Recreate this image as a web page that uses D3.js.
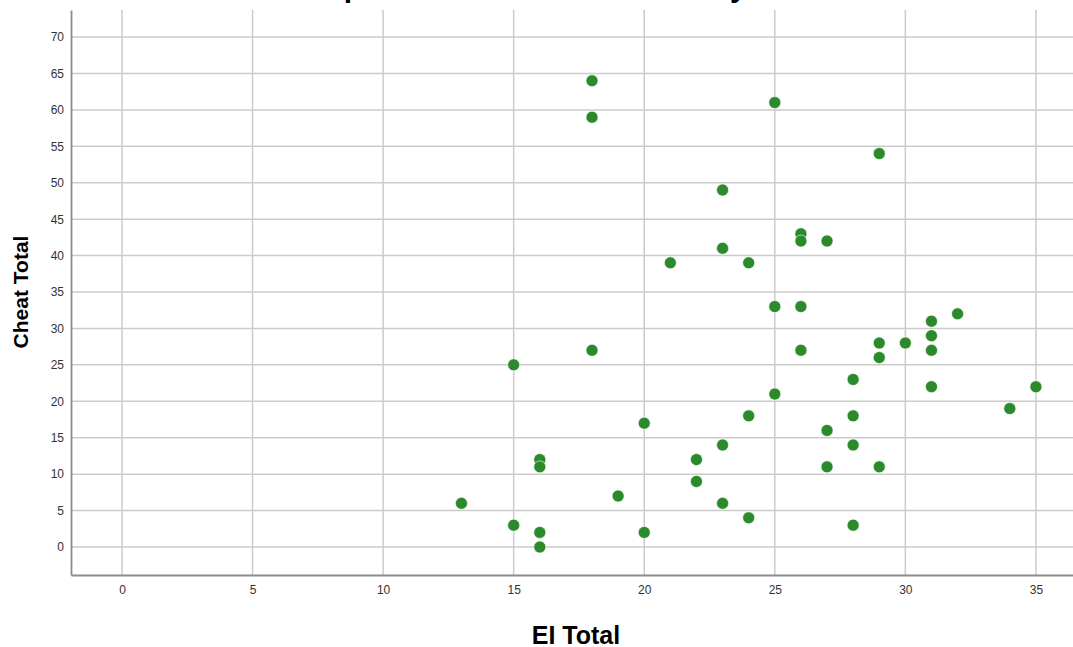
<!DOCTYPE html>
<html>
<head>
<meta charset="utf-8">
<script src="https://cdn.jsdelivr.net/npm/d3@7"></script>
<style>
  body { margin: 0; background: #fff; }
  text { font-family: "Liberation Sans", Arial, sans-serif; }
</style>
</head>
<body>
<svg id="chart"></svg>
<script>
// EI Total (x) vs Cheat Total (y)
let ei_total = [13, 15, 15, 16, 16, 16, 16, 18, 18, 18, 19, 20, 20, 21, 22, 22,
  23, 23, 23, 23, 24, 24, 24, 25, 25, 25, 26, 26, 26, 26, 27, 27, 27,
  28, 28, 28, 28, 29, 29, 29, 29, 30, 31, 31, 31, 31, 32, 34, 35];
let cheat_total = [6, 25, 3, 12, 11, 2, 0, 64, 59, 27, 7, 17, 2, 39, 12, 9,
  49, 41, 14, 6, 39, 18, 4, 61, 33, 21, 43, 42, 33, 27, 42, 16, 11,
  23, 18, 14, 3, 54, 28, 26, 11, 28, 31, 29, 27, 22, 32, 19, 22];
let x_ticks = [0, 5, 10, 15, 20, 25, 30, 35];
let y_ticks = [0, 5, 10, 15, 20, 25, 30, 35, 40, 45, 50, 55, 60, 65, 70];

let width = 1073,
  height = 647;

let svg = d3.select("#chart").attr("width", width).attr("height", height);

let x = d3.scaleLinear().domain([-1.953, 36.42]).range([71, 1073]);
let y = d3.scaleLinear().domain([-3.843, 73.71]).range([575, 10]);

// title, almost entirely above the top edge (only descenders show)
svg
  .append("text")
  .attr("x", 575)
  .attr("y", -3)
  .attr("text-anchor", "middle")
  .style("font-size", "30px")
  .style("font-weight", "bold")
  .text("Simple Scatter of Cheat Total by EI Total");

// grid
let grid = svg.append("g");
grid
  .selectAll("line.h")
  .data(y_ticks)
  .join("line")
  .attr("class", "h")
  .attr("x1", 71)
  .attr("x2", width)
  .attr("y1", d => y(d))
  .attr("y2", d => y(d))
  .attr("stroke", "#cbcbcb")
  .attr("stroke-width", 1.5);
grid
  .selectAll("line.v")
  .data(x_ticks)
  .join("line")
  .attr("class", "v")
  .attr("y1", 10)
  .attr("y2", 575)
  .attr("x1", d => x(d))
  .attr("x2", d => x(d))
  .attr("stroke", "#cbcbcb")
  .attr("stroke-width", 1.5);

// axes
let xAxis = svg
  .append("g")
  .attr("transform", "translate(0,575)")
  .call(d3.axisBottom(x).tickValues(x_ticks).tickSize(0).tickPadding(10));
let yAxis = svg
  .append("g")
  .attr("transform", "translate(71,0)")
  .call(d3.axisLeft(y).tickValues(y_ticks).tickSize(0).tickPadding(7));

[xAxis, yAxis].forEach(a => {
  a.select(".domain").attr("stroke", "#8c8c8c").attr("stroke-width", 1.8);
  a.selectAll("text")
    .style("font-size", "12px")
    .style("font-family", "'Liberation Sans', Arial, sans-serif")
    .attr("fill", "#333");
});

// points
svg
  .append("g")
  .selectAll("circle")
  .data(ei_total.map((d, i) => [d, cheat_total[i]]))
  .join("circle")
  .attr("cx", d => x(d[0]))
  .attr("cy", d => y(d[1]))
  .attr("r", 6)
  .attr("fill", "#2b8a2b")
  .attr("stroke", "#fff")
  .attr("stroke-width", 0.6);

// axis titles
svg
  .append("text")
  .attr("x", 576)
  .attr("y", 644)
  .attr("text-anchor", "middle")
  .style("font-size", "25px")
  .style("font-weight", "bold")
  .text("EI Total");

svg
  .append("text")
  .attr("transform", "translate(28,292) rotate(-90)")
  .attr("text-anchor", "middle")
  .style("font-size", "21px")
  .style("font-weight", "bold")
  .text("Cheat Total");
</script>
</body>
</html>
